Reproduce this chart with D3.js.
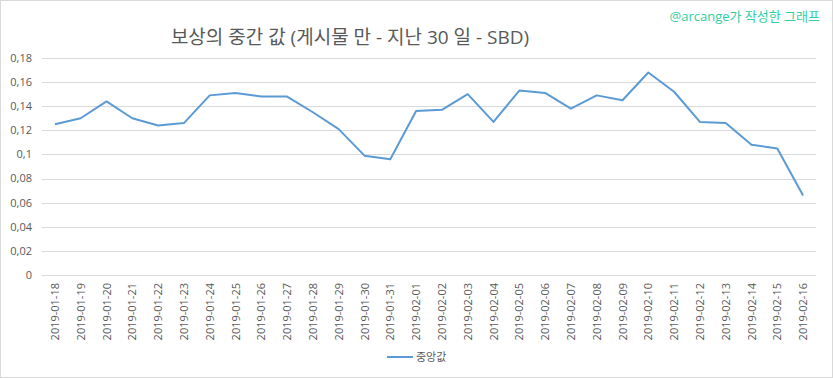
<!DOCTYPE html>
<html>
<head>
<meta charset="utf-8">
<script src="https://cdn.jsdelivr.net/npm/d3@7"></script>
<style>
  body { margin: 0; background: #fff; }
  svg { display: block; font-family: "Open Sans", "Noto Sans CJK KR", sans-serif; }
</style>
</head>
<body>
<svg id="chart" width="833" height="378"></svg>
<script>
const dates = ["2019-01-18","2019-01-19","2019-01-20","2019-01-21","2019-01-22","2019-01-23","2019-01-24",
  "2019-01-25","2019-01-26","2019-01-27","2019-01-28","2019-01-29","2019-01-30","2019-01-31",
  "2019-02-01","2019-02-02","2019-02-03","2019-02-04","2019-02-05","2019-02-06","2019-02-07",
  "2019-02-08","2019-02-09","2019-02-10","2019-02-11","2019-02-12","2019-02-13","2019-02-14",
  "2019-02-15","2019-02-16"];
const medians = [0.125, 0.130, 0.144, 0.130, 0.124, 0.126, 0.149, 0.151, 0.148, 0.148,
  0.135, 0.121, 0.099, 0.096, 0.136, 0.137, 0.150, 0.127, 0.153, 0.151,
  0.138, 0.149, 0.145, 0.168, 0.152, 0.127, 0.126, 0.108, 0.105, 0.066];
const yTicks = [0, 0.02, 0.04, 0.06, 0.08, 0.1, 0.12, 0.14, 0.16, 0.18];

const svg = d3.select("#chart");
const W = 833, H = 378;
const plot = { left: 42, right: 816, top: 58, bottom: 275 };

// outer frame
svg.append("rect")
  .attr("x", 0.5).attr("y", 0.5)
  .attr("width", W - 1).attr("height", H - 1)
  .attr("fill", "#fff").attr("stroke", "#d9d9d9");

const x = d3.scaleBand().domain(dates).range([plot.left, plot.right]);
const y = d3.scaleLinear().domain([0, 0.18]).range([plot.bottom, plot.top]);
const fmt = v => d3.format("~g")(+v.toFixed(2)).replace(".", ",");

// grid + y labels
svg.append("g").selectAll("line")
  .data(yTicks).enter().append("line")
  .attr("x1", plot.left).attr("x2", plot.right)
  .attr("y1", d => Math.round(y(d)) + 0.5).attr("y2", d => Math.round(y(d)) + 0.5)
  .attr("stroke", "#d9d9d9").attr("stroke-width", 1);

svg.append("g").selectAll("text")
  .data(yTicks).enter().append("text")
  .attr("x", plot.left - 10).attr("y", d => y(d))
  .attr("dy", "0.35em").attr("text-anchor", "end")
  .attr("font-size", 11).attr("fill", "#595959")
  .text(fmt);

// x labels, rotated
svg.append("g").selectAll("text")
  .data(dates).enter().append("text")
  .attr("transform", d => `translate(${x(d) + x.bandwidth() / 2 + 4},${plot.bottom + 8}) rotate(-90)`)
  .attr("text-anchor", "end")
  .attr("font-size", 11).attr("fill", "#595959")
  .text(d => d);

// line
const line = d3.line()
  .x((d, i) => x(dates[i]) + x.bandwidth() / 2)
  .y(d => y(d));

svg.append("path")
  .datum(medians)
  .attr("d", line)
  .attr("fill", "none")
  .attr("stroke", "#5b9bd5")
  .attr("stroke-width", 2)
  .attr("stroke-linejoin", "round");

// title
svg.append("text")
  .attr("x", 350).attr("y", 44)
  .attr("text-anchor", "middle")
  .attr("font-size", 19).attr("fill", "#595959")
  .text("보상의 중간 값 (게시물 만 - 지난 30 일 - SBD)");

// watermark
svg.append("text")
  .attr("x", 820).attr("y", 21)
  .attr("text-anchor", "end")
  .attr("font-size", 13).attr("fill", "#2fcf9f")
  .text("@arcange가 작성한 그래프");

// legend
const lg = svg.append("g").attr("transform", "translate(387,357)");
lg.append("line").attr("x1", 0).attr("x2", 26).attr("y1", 0).attr("y2", 0)
  .attr("stroke", "#5b9bd5").attr("stroke-width", 2);
lg.append("text").attr("x", 29).attr("y", 0).attr("dy", "0.35em")
  .attr("font-size", 11).attr("fill", "#595959")
  .text("중앙값");
</script>
</body>
</html>
